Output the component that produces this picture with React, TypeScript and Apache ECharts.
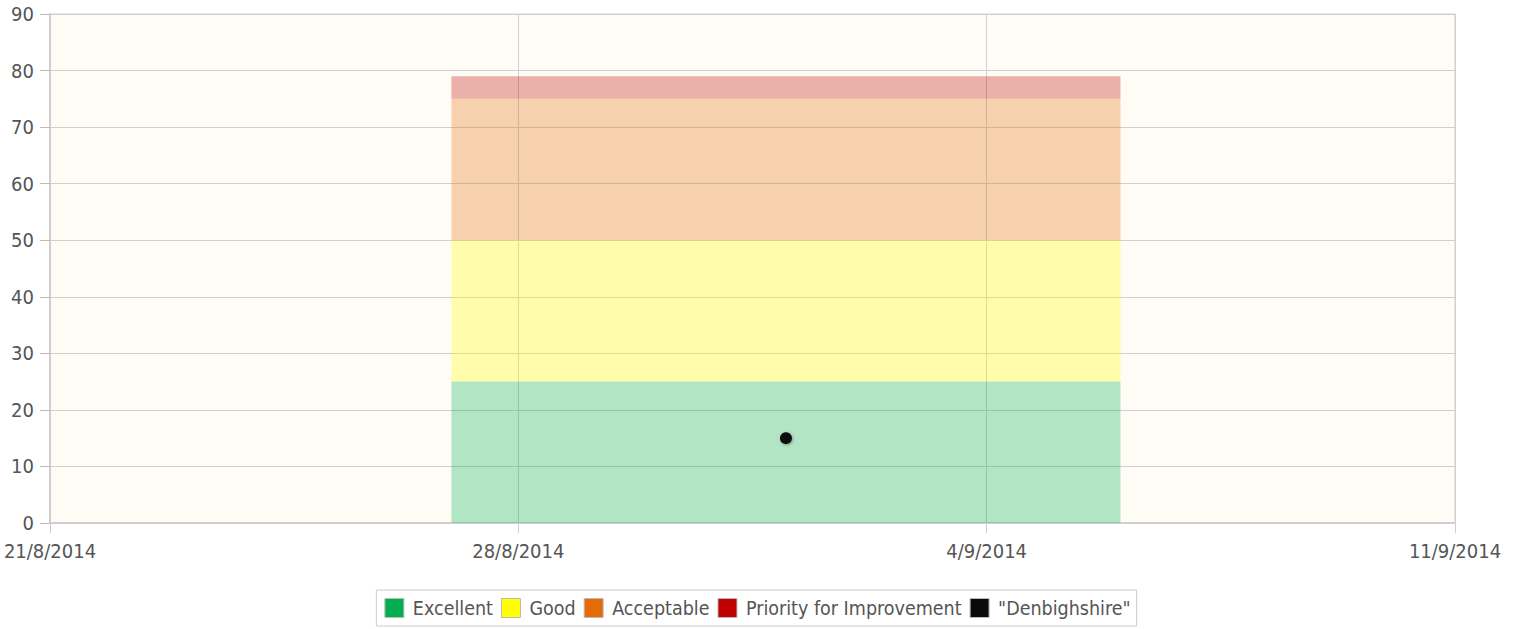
import React, { useEffect, useRef } from "react";
import * as echarts from "echarts";

const axisStart = "2014-08-21";
const axisEnd = "2014-09-11";
const bandStart = "2014-08-27";
const bandEnd = "2014-09-06";
const bandNames = ["Excellent", "Good", "Acceptable", "Priority for Improvement"];
const bandBottoms = [0, 25, 50, 75];
const bandTops = [25, 50, 75, 79];
const bandColors = ["#00b050", "#ffff00", "#e36c09", "#c00000"];
const pointName = '"Denbighshire"';
const pointDate = "2014-09-01";
const pointValue = 15;

const DAY = 86400000;
const t0 = Date.parse(axisStart + "T00:00:00Z");
const dayOf = (s: string) => Math.round((Date.parse(s + "T00:00:00Z") - t0) / DAY);
const fmt = (d: number) => {
  const dt = new Date(t0 + d * DAY);
  return `${dt.getUTCDate()}/${dt.getUTCMonth() + 1}/${dt.getUTCFullYear()}`;
};

const FONT = '"DejaVu Sans Condensed", "Liberation Sans Narrow", "DejaVu Sans", sans-serif';

export default function App() {
  const ref = useRef<HTMLDivElement>(null);
  useEffect(() => {
    if (!ref.current) return;
    const chart = echarts.init(ref.current, undefined, { renderer: "svg" });
    const x0 = dayOf(bandStart);
    const x1 = dayOf(bandEnd);
    const bandSeries = bandNames.map((name, i) => ({
      name,
      type: "custom",
      itemStyle: { color: bandColors[i] },
      encode: { x: [0, 1], y: [2, 3] },
      data: [[x0, x1, bandBottoms[i], bandTops[i]]],
      renderItem: (params: any, api: any) => {
        const pA = api.coord([api.value(0), api.value(3)]);
        const pB = api.coord([api.value(1), api.value(2)]);
        return {
          type: "rect",
          shape: { x: pA[0], y: pA[1], width: pB[0] - pA[0], height: pB[1] - pA[1] },
          style: { fill: bandColors[i], opacity: 0.3 },
        };
      },
      z: 2,
    }));
    chart.setOption({
      animation: false,
      textStyle: { fontFamily: FONT },
      grid: {
        left: 50,
        right: 60,
        top: 14,
        bottom: 106,
        show: true,
        backgroundColor: "#fffcf5",
        borderColor: "#d0d0d0",
        borderWidth: 1,
      },
      xAxis: {
        type: "value",
        min: 0,
        max: dayOf(axisEnd),
        interval: 7,
        axisLine: { show: true, lineStyle: { color: "#cfcfcf", width: 2 } },
        axisTick: { show: true, length: 10, lineStyle: { color: "#cfcfcf" } },
        splitLine: { show: true, lineStyle: { color: "#d0d0d0" } },
        axisLabel: {
          formatter: (v: number) => fmt(v),
          color: "#555",
          fontSize: 20,
          fontFamily: FONT,
          margin: 18,
          showMinLabel: true,
          showMaxLabel: true,
        },
      },
      yAxis: {
        type: "value",
        min: 0,
        max: 90,
        interval: 10,
        axisLine: { show: true, lineStyle: { color: "#cfcfcf", width: 2 } },
        axisTick: { show: true, length: 10, lineStyle: { color: "#bbb" } },
        splitLine: { show: true, lineStyle: { color: "#d0d0d0" } },
        axisLabel: { color: "#555", fontSize: 20, fontFamily: FONT, margin: 16 },
      },
      legend: {
        bottom: 3,
        left: "center",
        icon: "rect",
        itemWidth: 19,
        itemHeight: 19,
        itemGap: 8,
        padding: [8, 6, 8, 8],
        borderColor: "#ccc",
        borderWidth: 1,
        backgroundColor: "#fff",
        textStyle: { color: "#555", fontSize: 19.5, fontFamily: FONT, padding: [0, 0, 0, 4] },
        itemStyle: { borderColor: "#bbb", borderWidth: 1, opacity: 1 },
        data: [
          ...bandNames.map((n, i) => ({ name: n, itemStyle: { color: bandColors[i] } })),
          { name: pointName, itemStyle: { color: "#0a0a0a", opacity: 1 } },
        ],
      },
      series: [
        ...bandSeries,
        {
          name: pointName,
          type: "scatter",
          color: "#0a0a0a",
          symbolSize: 12,
          itemStyle: {
            color: "#0a0a0a",
            opacity: 1,
            shadowColor: "rgba(0,0,0,0.3)",
            shadowBlur: 3,
            shadowOffsetX: 1,
            shadowOffsetY: 1,
          },
          data: [[dayOf(pointDate), pointValue]],
          z: 5,
        },
      ],
    });
    return () => chart.dispose();
  }, []);
  return (
    <div
      ref={ref}
      style={{ position: "absolute", left: 0, top: 0, width: 1515, height: 629, background: "#fff" }}
    />
  );
}
